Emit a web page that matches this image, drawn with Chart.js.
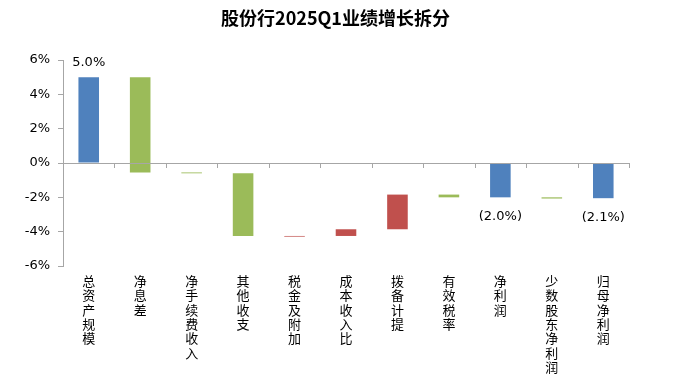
<!DOCTYPE html>
<html>
<head>
<meta charset="utf-8">
<script src="https://cdn.jsdelivr.net/npm/chart.js@4"></script>
<style>
  body { margin: 0; background: #fff; }
  #wrap { width: 681px; height: 391px; }
</style>
</head>
<body>
<div id="wrap"><canvas id="myChart" width="681" height="391"></canvas></div>
<script>
// Waterfall data (percent)
const categories = ['总资产规模', '净息差', '净手续费收入', '其他收支', '税金及附加', '成本收入比', '拨备计提', '有效税率', '净利润', '少数股东净利润', '归母净利润'];
const barLow  = [0,   -0.55, -0.60, -4.25, -4.29, -4.25, -3.86, -2.00, -2.00, -2.07, -2.05];
const barHigh = [5.0,  5.0,  -0.55, -0.60, -4.25, -3.86, -1.84, -1.84,  0,    -2.00,  0];
const valueLabels = ['5.0%', '', '', '', '', '', '', '', '(2.0%)', '', '(2.1%)'];
const yTicks = [6, 4, 2, 0, -2, -4, -6];
const chartTitle = '股份行2025Q1业绩增长拆分';

const BLUE = '#4F81BD', GREEN = '#9BBB59', RED = '#C0504D';
const barColors = [BLUE, GREEN, GREEN, GREEN, RED, RED, RED, GREEN, BLUE, GREEN, BLUE];

const CJK = '"Noto Sans CJK SC", "Noto Sans", sans-serif';
const NUM = '"DejaVu Sans", sans-serif';

// title centred on the canvas, zero line with category tick marks, value labels
const waterfallExtras = {
    id: 'waterfallExtras',
    afterDatasetsDraw(chart) {
        const ctx = chart.ctx;
        const x = chart.scales.x, y = chart.scales.y;
        const y0 = y.getPixelForValue(0);
        const step = x.getPixelForValue(1) - x.getPixelForValue(0);
        ctx.save();

        ctx.fillStyle = '#000';
        ctx.font = 'bold 18px ' + CJK;
        ctx.textAlign = 'center';
        ctx.textBaseline = 'middle';
        ctx.fillText(chartTitle, chart.width / 2 - 5, 18);

        ctx.strokeStyle = '#A6A6A6';
        ctx.lineWidth = 1;
        ctx.beginPath();
        ctx.moveTo(x.left, Math.round(y0) + 0.5);
        ctx.lineTo(x.right, Math.round(y0) + 0.5);
        for (let i = 0; i <= categories.length; i++) {
            const px = Math.round(x.getPixelForValue(i) - step / 2) + 0.5;
            ctx.moveTo(px, Math.round(y0));
            ctx.lineTo(px, Math.round(y0) + 5);
        }
        ctx.stroke();

        ctx.font = '13px ' + NUM;
        valueLabels.forEach((txt, i) => {
            if (!txt) return;
            const px = x.getPixelForValue(i);
            if (barHigh[i] > 0) {
                ctx.textBaseline = 'bottom';
                ctx.fillText(txt, px, y.getPixelForValue(barHigh[i]) - 8);
            } else {
                ctx.textBaseline = 'top';
                ctx.fillText(txt, px, y.getPixelForValue(barLow[i]) + 13);
            }
        });
        ctx.restore();
    }
};

const ctx = document.getElementById('myChart').getContext('2d');
const myChart = new Chart(ctx, {
    type: 'bar',
    data: {
        // stack the characters so each label reads top to bottom
        labels: categories.map(c => c.split('')),
        datasets: [{
            data: barLow.map((lo, i) => [lo, barHigh[i]]),
            backgroundColor: barColors,
            borderWidth: 0,
            barPercentage: 0.4,
            categoryPercentage: 1
        }]
    },
    plugins: [waterfallExtras],
    options: {
        responsive: false,
        animation: false,
        layout: { padding: { left: 6, right: 52, top: 60, bottom: 0 } },
        plugins: {
            legend: { display: false },
            tooltip: { enabled: false },
            title: { display: false }
        },
        scales: {
            x: {
                grid: { display: false },
                border: { display: false },
                ticks: {
                    color: '#000',
                    font: { family: CJK, size: 13, lineHeight: 1.1 },
                    maxRotation: 0,
                    autoSkip: false,
                    padding: 0
                },
                afterFit(scale) { scale.height = 391 - 266; }
            },
            y: {
                min: -6,
                max: 6,
                afterBuildTicks(scale) { scale.ticks = yTicks.map(v => ({ value: v })); },
                grid: {
                    drawOnChartArea: false,
                    tickLength: 5,
                    color: '#A6A6A6'
                },
                border: { display: true, color: '#A6A6A6' },
                ticks: {
                    color: '#000',
                    font: { family: NUM, size: 13 },
                    padding: 8,
                    callback: v => v + '%'
                },
                afterFit(scale) { scale.width = 63 - 6; }
            }
        }
    }
});
</script>
</body>
</html>
